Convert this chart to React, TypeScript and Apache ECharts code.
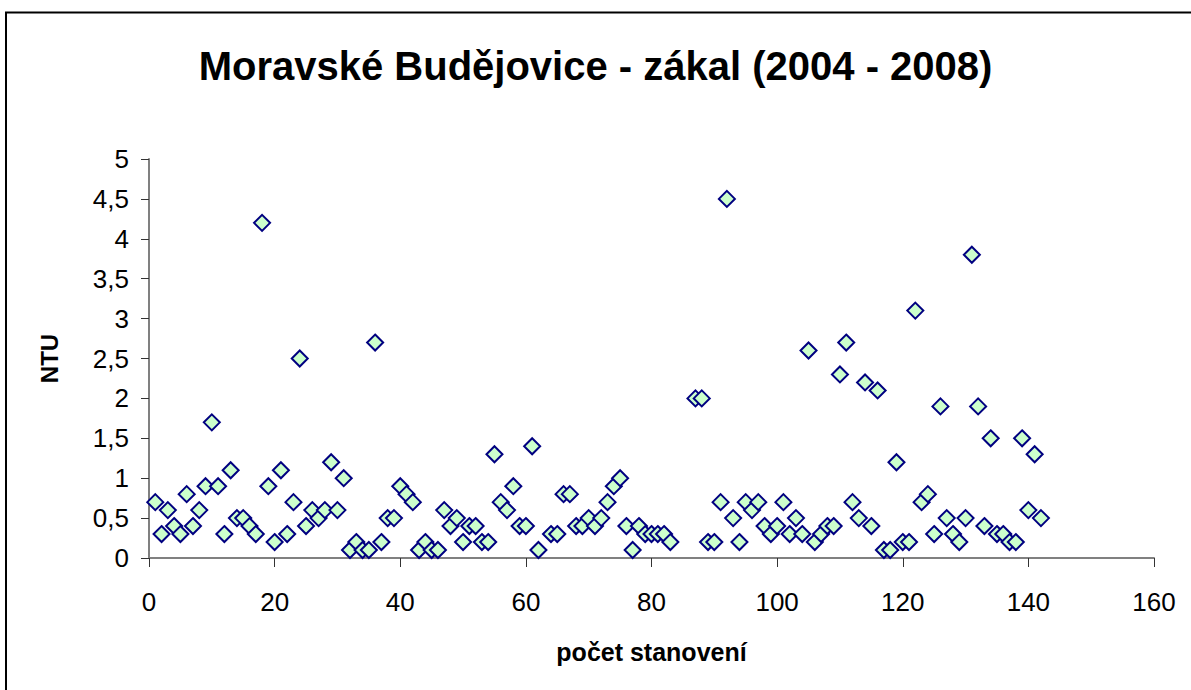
import React, { useEffect, useRef } from "react";
import * as echarts from "echarts";

const titleText = "Moravské Budějovice - zákal (2004 - 2008)";
const xAxisName = "počet stanovení";
const yAxisName = "NTU";

// values for observation numbers 1..142 (null = no value)
const ntuValues: (number | null)[] = [
  0.7, 0.3, 0.6, 0.4, 0.3, 0.8, 0.4, 0.6, 0.9, 1.7,
  0.9, 0.3, 1.1, 0.5, 0.5, 0.4, 0.3, 4.2, 0.9, 0.2,
  1.1, 0.3, 0.7, 2.5, 0.4, 0.6, 0.5, 0.6, 1.2, 0.6,
  1.0, 0.1, 0.2, 0.1, 0.1, 2.7, 0.2, 0.5, 0.5, 0.9,
  0.8, 0.7, 0.1, 0.2, 0.1, 0.1, 0.6, 0.4, 0.5, 0.2,
  0.4, 0.4, 0.2, 0.2, 1.3, 0.7, 0.6, 0.9, 0.4, 0.4,
  1.4, 0.1, null, 0.3, 0.3, 0.8, 0.8, 0.4, 0.4, 0.5,
  0.4, 0.5, 0.7, 0.9, 1.0, 0.4, 0.1, 0.4, 0.3, 0.3,
  0.3, 0.3, 0.2, null, null, null, 2.0, 2.0, 0.2, 0.2,
  0.7, 4.5, 0.5, 0.2, 0.7, 0.6, 0.7, 0.4, 0.3, 0.4,
  0.7, 0.3, 0.5, 0.3, 2.6, 0.2, 0.3, 0.4, 0.4, 2.3,
  2.7, 0.7, 0.5, 2.2, 0.4, 2.1, 0.1, 0.1, 1.2, 0.2,
  0.2, 3.1, 0.7, 0.8, 0.3, 1.9, 0.5, 0.3, 0.2, 0.5,
  3.8, 1.9, 0.4, 1.5, 0.3, 0.3, 0.2, 0.2, 1.5, 0.6,
  1.3, 0.5,
];

const FONT = "Liberation Sans, Arial, sans-serif";

export default function App() {
  const ref = useRef<HTMLDivElement>(null);
  useEffect(() => {
    if (!ref.current) return;
    const chart = echarts.init(ref.current, null, { renderer: "svg" });
    const points: [number, number][] = [];
    ntuValues.forEach((v, i) => {
      if (v !== null) points.push([i + 1, v]);
    });
    chart.setOption({
      animation: false,
      backgroundColor: "#ffffff",
      title: {
        text: titleText,
        left: "center",
        top: 41,
        textStyle: {
          fontFamily: FONT,
          fontSize: 40,
          fontWeight: "bold",
          color: "#000",
        },
      },
      grid: { left: 149, right: 37, top: 159, bottom: 132, containLabel: false },
      xAxis: {
        type: "value",
        min: 0,
        max: 160,
        interval: 20,
        name: xAxisName,
        nameLocation: "middle",
        nameGap: 81,
        nameTextStyle: { fontFamily: FONT, fontSize: 25, fontWeight: "bold", color: "#000" },
        axisLine: { show: true, lineStyle: { color: "#808080", width: 2 } },
        axisTick: { show: true, length: 9, lineStyle: { color: "#333", width: 1 } },
        axisLabel: { fontFamily: FONT, fontSize: 26, color: "#000", margin: 31 },
        splitLine: { show: false },
      },
      yAxis: {
        type: "value",
        min: 0,
        max: 5,
        interval: 0.5,
        name: yAxisName,
        nameLocation: "middle",
        nameRotate: 90,
        nameGap: 88,
        nameTextStyle: { fontFamily: FONT, fontSize: 24, fontWeight: "bold", color: "#000" },
        axisLine: { show: true, lineStyle: { color: "#808080", width: 2 } },
        axisTick: { show: true, length: 8, lineStyle: { color: "#333", width: 1 } },
        axisLabel: {
          fontFamily: FONT,
          fontSize: 26,
          color: "#000",
          margin: 20,
          formatter: (v: number) => String(v).replace(".", ","),
        },
        splitLine: { show: false },
      },
      graphic: [
        {
          type: "polyline",
          shape: { points: [[6, 720], [6, 12.5], [1220, 12.5]] },
          style: { stroke: "#000", lineWidth: 2, fill: "none" },
          silent: true,
        },
      ],
      series: [
        {
          type: "scatter",
          data: points,
          symbol: "diamond",
          symbolSize: 16,
          itemStyle: { color: "#CCFFCC", borderColor: "#000080", borderWidth: 2, opacity: 1 },
        },
      ],
    });
    return () => chart.dispose();
  }, []);
  return (
    <div
      ref={ref}
      style={{ position: "fixed", left: 0, top: 0, width: 1191, height: 690 }}
    />
  );
}
